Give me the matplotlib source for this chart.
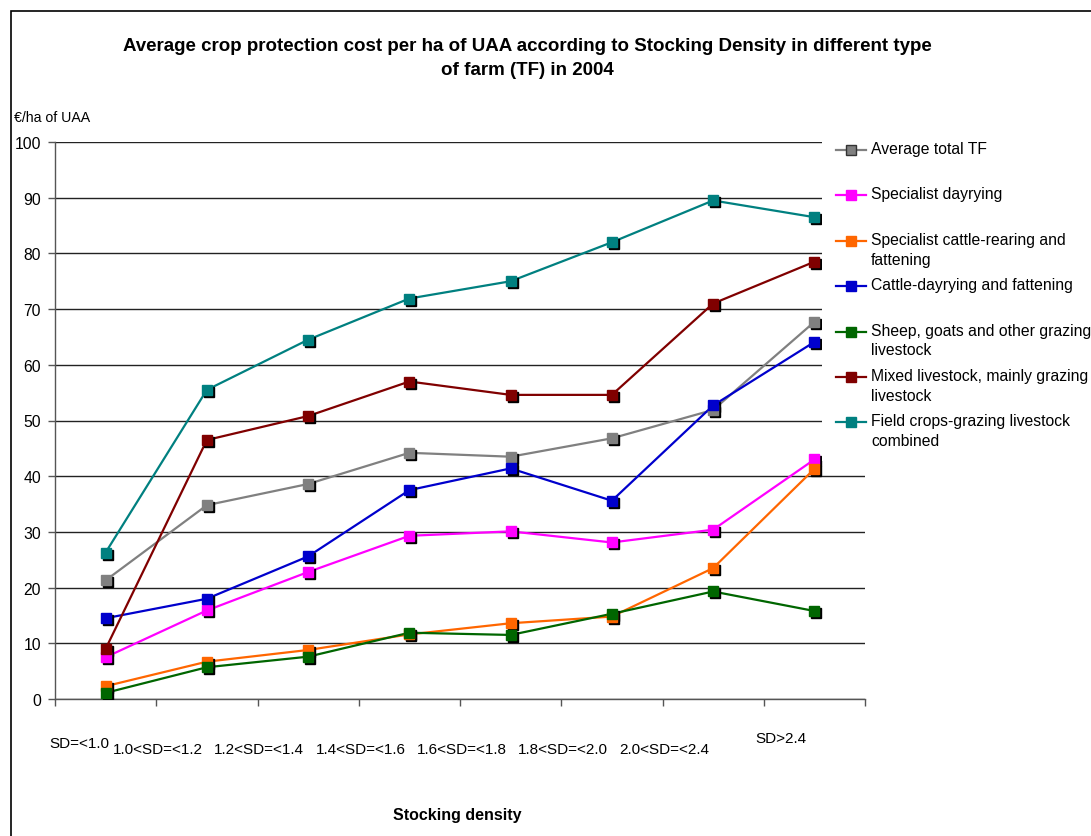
import matplotlib
matplotlib.use("Agg")
import matplotlib.pyplot as plt
from matplotlib.lines import Line2D
from matplotlib.patches import Rectangle
from matplotlib.transforms import offset_copy, ScaledTranslation

plt.rcParams['font.family'] = ['Liberation Sans', 'DejaVu Sans']

categories = ["SD=<1.0", "1.0<SD=<1.2", "1.2<SD=<1.4", "1.4<SD=<1.6",
              "1.6<SD=<1.8", "1.8<SD=<2.0", "2.0<SD=<2.4", "SD>2.4"]

average_total_tf = [21.3, 34.8, 38.6, 44.2, 43.5, 46.8, 51.9, 67.7]
specialist_dairying = [7.5, 15.9, 22.8, 29.3, 30.1, 28.1, 30.4, 43.0]
specialist_cattle_rearing = [2.3, 6.7, 8.8, 11.6, 13.6, 14.8, 23.5, 41.3]
cattle_dairying_fattening = [14.5, 18.0, 25.6, 37.5, 41.4, 35.6, 52.7, 64.1]
sheep_goats_grazing = [1.1, 5.7, 7.6, 11.9, 11.5, 15.3, 19.3, 15.8]
mixed_livestock_grazing = [9.0, 46.5, 50.8, 57.0, 54.6, 54.6, 71.0, 78.5]
field_crops_grazing = [26.3, 55.5, 64.5, 71.9, 75.0, 82.0, 89.5, 86.5]

series_labels = [
    "Average total TF",
    "Specialist dayrying",
    "Specialist cattle-rearing and\nfattening",
    "Cattle-dayrying and fattening",
    "Sheep, goats and other grazing\nlivestock",
    "Mixed livestock, mainly grazing\nlivestock",
    "Field crops-grazing livestock\ncombined",
]
series_values = [average_total_tf, specialist_dairying, specialist_cattle_rearing,
                 cattle_dairying_fattening, sheep_goats_grazing,
                 mixed_livestock_grazing, field_crops_grazing]
series_colors = ["#808080", "#FF00FF", "#FF6600", "#0000CC", "#006600",
                 "#800000", "#008080"]

W, H = 1091, 837
fig = plt.figure(figsize=(W / 100, H / 100), dpi=100)

# outer chart frame
fig.patches.append(Rectangle((11 / W, -0.01), 1.02, 1 - 12 / H + 0.01,
                             transform=fig.transFigure, fill=False,
                             edgecolor="black", linewidth=1.2))

ax = fig.add_axes([55 / W, 1 - 700 / H, (865 - 55) / W, (700 - 143) / H])
x = list(range(len(categories)))

shadow = offset_copy(ax.transData, fig=fig, x=2, y=-2, units='dots')
for vals, col in zip(series_values, series_colors):
    ax.plot(x, vals, color=col, linewidth=1.6, zorder=3)
    ax.plot(x, vals, linestyle='none', marker='s', markersize=7.5,
            color='black', transform=shadow, zorder=4)
    ax.plot(x, vals, linestyle='none', marker='s', markersize=7.5,
            markerfacecolor=col, markeredgecolor=col, zorder=5)

ax.set_xlim(-0.5, len(categories) - 0.5)
ax.set_ylim(0, 100)
ax.set_yticks(range(0, 101, 10))
ax.yaxis.grid(True, color="#222222", linewidth=1.0)
ax.set_axisbelow(True)
for s in ("top", "right"):
    ax.spines[s].set_visible(False)
for s in ("left", "bottom"):
    ax.spines[s].set_color("#555555")
    ax.spines[s].set_linewidth(1.0)
ax.tick_params(axis='y', length=5, width=1, color="#555555", labelsize=11.3, pad=5)

# category labels at centres, tick marks at category boundaries
ax.set_xticks(x)
ax.set_xticklabels(categories, fontsize=11)
ax.tick_params(axis='x', which='major', length=0, pad=31)
ax.set_xticks([i - 0.5 for i in range(len(categories) + 1)], minor=True)
ax.tick_params(axis='x', which='minor', length=5, width=1, color="#555555")

dx_px = [-26] + [-49] * 6 + [-33]
dy_px = [6, 0, 0, 0, 0, 0, 0, 11]
for lab, dx, dy in zip(ax.get_xticklabels(), dx_px, dy_px):
    lab.set_transform(lab.get_transform() +
                      ScaledTranslation(dx / 100, dy / 100, fig.dpi_scale_trans))

fig.text(527 / W, 1 - 58.5 / H,
         "Average crop protection cost per ha of UAA according to Stocking Density in different type\nof farm (TF) in 2004",
         ha='center', va='center', fontsize=13.5, fontweight='bold', linespacing=1.55)
fig.text(14 / W, 1 - 118 / H, "€/ha of UAA", ha='left', va='center', fontsize=10.2)
fig.text(457 / W, 1 - 816 / H, "Stocking density", ha='center', va='center',
         fontsize=11.5, fontweight='bold')

# legend with handles aligned to the first text line
fig.patches.append(Rectangle((822 / W, 1 - 462 / H), (W - 822) / W, (462 - 130) / H,
                             transform=fig.transFigure, facecolor="white",
                             edgecolor="none", zorder=2))
for i, (lab, col) in enumerate(zip(series_labels, series_colors)):
    yc = 151 + 45.4 * i
    yf = 1 - yc / H
    fig.lines.append(Line2D([836 / W, 866 / W], [yf, yf], transform=fig.transFigure,
                            color=col, linewidth=1.6, zorder=3))
    fig.lines.append(Line2D([851 / W], [yf], transform=fig.transFigure,
                            marker='s', markersize=7.5, markerfacecolor=col,
                            markeredgecolor="#333333" if i == 0 else col,
                            linestyle='none', zorder=4))
    fig.text(871 / W, 1 - (yc - 9) / H, lab, ha='left', va='top', fontsize=11.3,
             linespacing=1.4, zorder=4)

fig.savefig("out.png", dpi=100)
